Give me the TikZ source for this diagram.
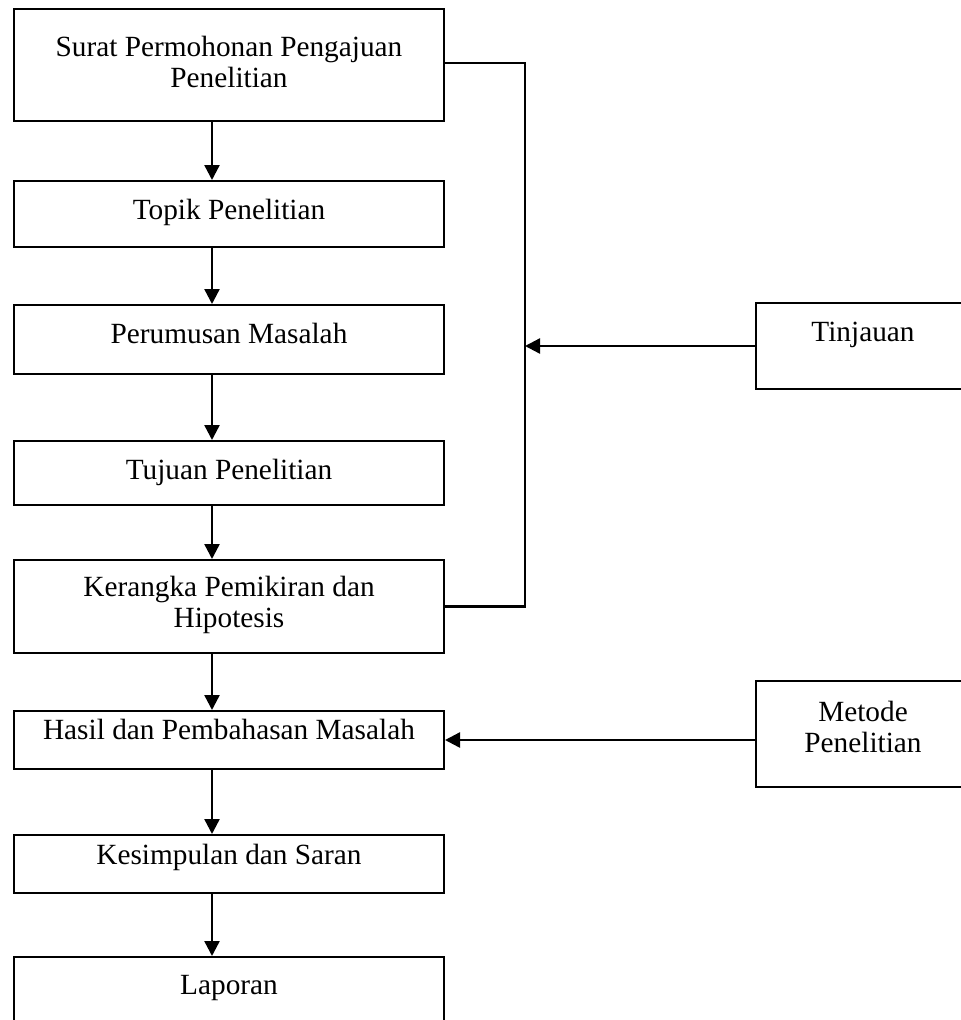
\documentclass[tikz,border=0pt]{standalone}
\usepackage{fontspec}
\setmainfont{Liberation Serif}
\usetikzlibrary{arrows.meta}
\newcommand{\bxtext}[4]{\parbox[c][#2][t]{#1}{\centering\rule{0pt}{#3}#4}}
\begin{document}
\begin{tikzpicture}[x=1pt,y=-1pt,
  box/.style={draw, line width=2pt, inner sep=0pt, anchor=north west, font=\fontsize{29.3}{31}\selectfont},
  conn/.style={line width=2.4pt},
  arr/.style={conn, -{Triangle[length=15pt,width=15pt]}}]
\useasboundingbox (0,0) rectangle (961,1020);
\clip (0,0) rectangle (961,1020);
\coordinate (ax) at (212,0);
\coordinate (J) at (523,0);
\node[box] (top) at (13,8) {\bxtext{430pt}{112pt}{47pt}{Surat Permohonan Pengajuan\\Penelitian}};
\node[box] (topik) at (13,180) {\bxtext{430pt}{66pt}{38pt}{Topik Penelitian}};
\node[box] (rum) at (13,304) {\bxtext{430pt}{69pt}{38pt}{Perumusan Masalah}};
\node[box] (tuj) at (13,440) {\bxtext{430pt}{64pt}{38pt}{Tujuan Penelitian}};
\node[box] (ker) at (13,559) {\bxtext{430pt}{93pt}{36pt}{Kerangka Pemikiran dan\\Hipotesis}};
\node[box] (has) at (13,710) {\bxtext{430pt}{58pt}{28pt}{Hasil dan Pembahasan Masalah}};
\node[box] (kes) at (13,834) {\bxtext{430pt}{58pt}{29pt}{Kesimpulan dan Saran}};
\node[box] (lap) at (13,956) {\bxtext{430pt}{84pt}{37pt}{Laporan}};
\node[box] (tin) at (755,302) {\bxtext{214pt}{86pt}{38pt}{Tinjauan}};
\node[box] (met) at (755,680) {\bxtext{214pt}{106pt}{40pt}{Metode\\Penelitian}};
\draw[arr] (top.south -| ax) -- (topik.north -| ax);
\draw[arr] (topik.south -| ax) -- (rum.north -| ax);
\draw[arr] (rum.south -| ax) -- (tuj.north -| ax);
\draw[arr] (tuj.south -| ax) -- (ker.north -| ax);
\draw[arr] (ker.south -| ax) -- (has.north -| ax);
\draw[arr] (has.south -| ax) -- (kes.north -| ax);
\draw[arr] (kes.south -| ax) -- (lap.north -| ax);
\draw[conn] (top.east) ++(0,-2) -- ++(80,0) coordinate (jt) -- (jt |- ker.east) -- (ker.east);
\draw[arr] (tin.west) -- (tin.west -| jt);
\draw[arr] (met.west |- has.east) -- (has.east);
\end{tikzpicture}
\end{document}
